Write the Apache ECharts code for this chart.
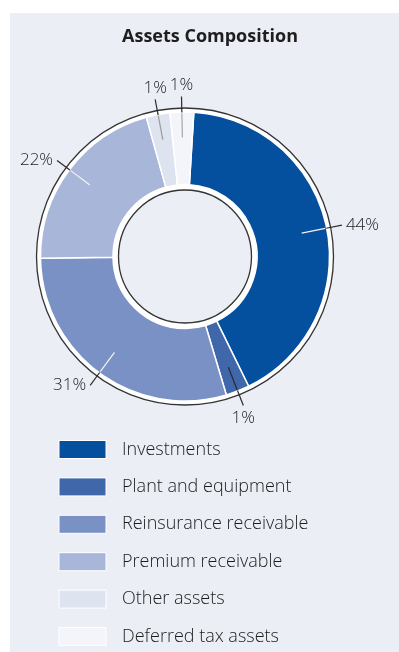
<!DOCTYPE html>
<html>
<head>
<meta charset="utf-8">
<script src="https://cdn.jsdelivr.net/npm/echarts@6/dist/echarts.min.js"></script>
<style>
  html, body { margin: 0; padding: 0; background: #ffffff; }
  #chart { width: 399px; height: 652px; }
</style>
</head>
<body>
<div id="chart"></div>
<script>
// Asset categories and their share of total assets (%)
const categories = [
  'Investments',
  'Plant and equipment',
  'Reinsurance receivable',
  'Premium receivable',
  'Other assets',
  'Deferred tax assets'
];
const shares = [44, 1, 31, 22, 1, 1];
const colors = ['#04509e', '#3f67aa', '#7a91c5', '#a8b6d9', '#dde3ef', '#f3f5fa'];
// colour of the leader-line segment that crosses each slice
const innerLineColors = ['#f4f4f4', '#2a2a2a', '#f4f4f4', '#f4f4f4', '#9a9a9a', '#a8a8a8'];

const FONT = '"Open Sans", "Noto Sans", sans-serif';
const CX = 185, CY = 256.5;
const START = 86.5;      // first slice begins just right of 12 o'clock
const MIN_ANGLE = 9.5;   // keeps the tiny slices visible

const pieData = categories.map((name, i) => ({
  name,
  value: shares[i],
  itemStyle: { color: colors[i] }
}));

// Labels near the top or bottom sit centred above / below the end of their leader line;
// the others keep the default side placement.
function placeLabel(params) {
  const pts = params.labelLinePoints;
  if (!pts || !pts.length) return {};
  const p = pts[pts.length - 1];
  const dx = p[0] - CX, dy = p[1] - CY;
  const r = Math.sqrt(dx * dx + dy * dy);
  if (Math.abs(dx) / r < 0.45) {
    return {
      x: p[0],
      y: dy < 0 ? p[1] - 3 : p[1] + 4,
      align: 'center',
      verticalAlign: dy < 0 ? 'bottom' : 'top',
      labelLinePoints: pts
    };
  }
  return {};
}

const chart = echarts.init(document.getElementById('chart'), null, { renderer: 'canvas' });

chart.setOption({
  animation: false,
  backgroundColor: 'transparent',
  graphic: [{
    type: 'rect',
    z: -10,
    silent: true,
    shape: { x: 10, y: 13, width: 389, height: 639 },
    style: { fill: '#eceef6' }
  }],
  title: {
    text: 'Assets Composition',
    left: 210,
    top: 28,
    padding: 0,
    textAlign: 'center',
    textStyle: { fontFamily: FONT, fontSize: 18, fontWeight: 'bold', color: '#1e1e1e' }
  },
  legend: {
    orient: 'vertical',
    left: 58.5,
    top: 440,
    height: 240,
    padding: 0,
    itemWidth: 47,
    itemHeight: 18,
    itemGap: 18.4,
    icon: 'rect',
    data: categories,
    itemStyle: { borderColor: '#ffffff', borderWidth: 1 },
    textStyle: {
      fontFamily: FONT, fontSize: 18, fontWeight: 300, color: '#1c1c1c',
      padding: [0, 0, 0, 11]
    },
    selectedMode: false
  },
  series: [
    {
      // white ring with dark outline that frames the donut
      type: 'pie',
      silent: true,
      center: [CX, CY],
      radius: [66.5, 148.5],
      label: { show: false },
      labelLine: { show: false },
      itemStyle: { color: '#ffffff', borderColor: '#333', borderWidth: 1.3 },
      data: [{ name: '__frame', value: 1 }],
      z: 1
    },
    {
      type: 'pie',
      center: [CX, CY],
      radius: [72, 144.5],
      startAngle: START,
      minAngle: MIN_ANGLE,
      clockwise: true,
      avoidLabelOverlap: false,
      label: { show: false },
      labelLine: { show: false },
      itemStyle: { borderColor: '#ffffff', borderWidth: 1.5 },
      emphasis: { disabled: true },
      data: pieData,
      z: 2
    },
    {
      // leader-line part that runs across the slice
      type: 'pie',
      silent: true,
      center: [CX, CY],
      radius: [0, 119],
      startAngle: START,
      minAngle: MIN_ANGLE,
      clockwise: true,
      avoidLabelOverlap: false,
      itemStyle: { color: 'rgba(0,0,0,0)' },
      emphasis: { disabled: true },
      label: { show: true, position: 'outside', formatter: ' ', color: 'rgba(0,0,0,0)' },
      labelLine: { show: true, length: 24, length2: 0, lineStyle: { width: 1.2 } },
      data: categories.map((name, i) => ({
        name, value: shares[i],
        labelLine: { lineStyle: { color: innerLineColors[i] } }
      })),
      z: 3
    },
    {
      // percentage labels with the outer, dark part of the leader line
      type: 'pie',
      silent: true,
      center: [CX, CY],
      radius: [0, 144],
      startAngle: START,
      minAngle: MIN_ANGLE,
      clockwise: true,
      avoidLabelOverlap: false,
      itemStyle: { color: 'rgba(0,0,0,0)' },
      emphasis: { disabled: true },
      label: {
        show: true,
        position: 'outside',
        formatter: '{c}%',
        fontFamily: FONT,
        fontSize: 17,
        fontWeight: 300,
        color: '#1e1e1e',
        distanceToLabelLine: 4
      },
      labelLine: {
        show: true,
        length: 16,
        length2: 0,
        lineStyle: { color: '#2a2a2a', width: 1.2 }
      },
      labelLayout: placeLabel,
      data: categories.map((name, i) => ({ name, value: shares[i] })),
      z: 4
    }
  ]
});
</script>
</body>
</html>
